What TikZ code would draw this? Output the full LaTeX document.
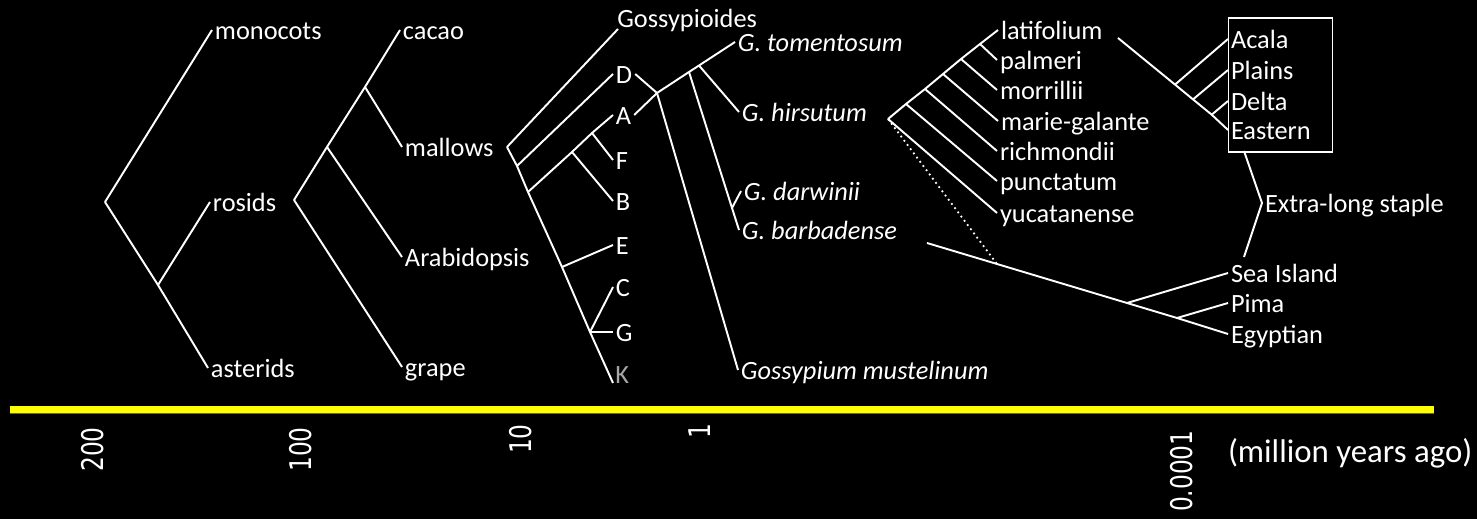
\documentclass[tikz,border=0pt]{standalone}
\usepackage{fontspec}
\setmainfont{Carlito}
\newfontfamily\axisfont[FakeStretch=0.78]{DejaVu Sans}
\usepackage{xcolor}
\usepackage{tikz}
\definecolor{barYellow}{HTML}{FFFF00}
\definecolor{barEdge}{HTML}{6E6E00}
\definecolor{kGray}{HTML}{A6A6A6}

\tikzset{
  branch/.style={draw=white, line width=1.1pt},
  taxon/.style={anchor=west, text=white, inner sep=1.5pt, text height=14pt, text depth=3.5pt,
                font=\fontsize{15}{18}\selectfont},
  species/.style={taxon, font=\fontsize{15}{18}\selectfont\itshape},
  mya/.style={rotate=90, anchor=east, text=white, inner sep=0pt, font=\axisfont\fontsize{17}{20}\selectfont}
}

\begin{document}
\begin{tikzpicture}[x=0.02cm, y=-0.02cm]
    \fill[black] (0,0) rectangle (1477,519);

    % angiosperms
    \coordinate (angio) at (105,202);
    \coordinate (eudicot) at (158,285);
    \node[taxon] (monocots) at (212,30) {monocots};
    \node[taxon] (rosids) at (210,202) {rosids};
    \node[taxon] (asterids) at (208,368) {asterids};
    \draw[branch] (angio) -- (monocots.west);
    \draw[branch] (angio) -- (eudicot) -- (asterids.west);
    \draw[branch] (eudicot) -- (rosids.west);

    % rosids
    \coordinate (rosRoot) at (294,200);
    \coordinate (malvid) at (327,147);
    \coordinate (malvales) at (365,87);
    \node[taxon] (cacao) at (400,30) {cacao};
    \node[taxon] (mallows) at (402,147) {mallows};
    \node[taxon] (arabidopsis) at (402,257) {Arabidopsis};
    \node[taxon] (grape) at (402,367) {grape};
    \draw[branch] (rosRoot) -- (malvid) -- (malvales) -- (cacao.west);
    \draw[branch] (malvales) -- (mallows.west);
    \draw[branch] (malvid) -- (arabidopsis.west);
    \draw[branch] (rosRoot) -- (grape.west);

    % genome groups
    \coordinate (gossRoot) at (507,147);
    \coordinate (gossTip) at (618,29);
    \coordinate (dSplit) at (517,166);
    \coordinate (aSplit) at (528,192);
    \coordinate (fSplit) at (592,133);
    \coordinate (bSplit) at (572,152);
    \coordinate (eSplit) at (562,267);
    \coordinate (cgSplit) at (590,332);
    \coordinate (kTip) at (613,383);
    \node[anchor=base west, text=white, inner sep=0pt, font=\fontsize{15}{18}\selectfont] (gossypioides) at (617,28) {Gossypioides};
    \node[taxon] (D) at (613,74) {D};
    \node[taxon] (A) at (613,115) {A};
    \node[taxon] (F) at (613,160) {F};
    \node[taxon] (B) at (613,201) {B};
    \node[taxon] (E) at (613,245) {E};
    \node[taxon] (C) at (613,287) {C};
    \node[taxon] (G) at (613,332) {G};
    \node[anchor=base west, text=kGray, inner sep=0pt, font=\fontsize{15}{18}\selectfont] (K) at (615,384) {K};
    \draw[branch] (gossRoot) -- (gossTip);
    \draw[branch] (dSplit) -- (D.west);
    \draw[branch] (aSplit) -- (bSplit) -- (fSplit) -- (A.west);
    \draw[branch] (fSplit) -- (F.west);
    \draw[branch] (bSplit) -- (B.west);
    \draw[branch] (gossRoot) -- (dSplit) -- (aSplit) -- (eSplit) -- (cgSplit) -- (kTip);
    \draw[branch] (eSplit) -- (E.west);
    \draw[branch] (cgSplit) -- (C.west);
    \draw[branch] (cgSplit) -- (G.west);

    % tetraploids
    \coordinate (allo) at (657,93);
    \coordinate (barbNode) at (689,72);
    \coordinate (hirsNode) at (699,65.5);
    \coordinate (darNode) at (732,208);
    \node[species] (tomentosum) at (735,42) {G. tomentosum};
    \node[species] (hirsutum) at (739,112) {G. hirsutum};
    \node[species] (darwinii) at (741,191) {G. darwinii};
    \node[species] (barbadense) at (739,230) {G. barbadense};
    \node[species] (mustelinum) at (738,370) {Gossypium mustelinum};
    \draw[branch] (D.east) -- (allo) -- (mustelinum.west);
    \draw[branch] (A.east) -- (allo) -- (barbNode) -- (hirsNode) -- (tomentosum.west);
    \draw[branch] (hirsNode) -- (hirsutum.west);
    \draw[branch] (barbNode) -- (darNode) -- (barbadense.west);
    \draw[branch] (darNode) -- (darwinii.west);

    % hirsutum races
    \coordinate (raceRoot) at (888,119);
    \coordinate (race1) at (906,104);
    \coordinate (race2) at (925,89);
    \coordinate (race3) at (943,74);
    \coordinate (race4) at (961,59);
    \coordinate (race5) at (980,44);
    \node[taxon] (latifolium) at (998,30) {latifolium};
    \node[taxon] (palmeri) at (997,60) {palmeri};
    \node[taxon] (morrillii) at (997,90) {morrillii};
    \node[taxon] (mariegalante) at (998,121) {marie-galante};
    \node[taxon] (richmondii) at (997,151) {richmondii};
    \node[taxon] (punctatum) at (997,181) {punctatum};
    \node[taxon] (yucatanense) at (997,213) {yucatanense};
    \draw[branch] (raceRoot) -- (race1) -- (race2) -- (race3) -- (race4) -- (race5) -- (latifolium.west);
    \draw[branch] (race5) -- (palmeri.west);
    \draw[branch] (race4) -- (morrillii.west);
    \draw[branch] (race3) -- (mariegalante.west);
    \draw[branch] (race2) -- (richmondii.west);
    \draw[branch] (race1) -- (punctatum.west);
    \draw[branch] (raceRoot) -- (yucatanense.west);

    % cultivars
    \coordinate (barbStart) at (927,243);
    \coordinate (barbJoin) at (997,264);
    \coordinate (seaNode) at (1127,303);
    \coordinate (pimaNode) at (1177,318);
    \node[taxon] (seaisland) at (1228,273) {Sea Island};
    \node[taxon] (pima) at (1228,303) {Pima};
    \node[taxon] (egyptian) at (1228,334) {Egyptian};
    \draw[branch] (barbStart) -- (barbJoin) -- (seaNode) -- (pimaNode) -- (egyptian.west);
    \draw[branch] (seaNode) -- (seaisland.west);
    \draw[branch] (pimaNode) -- (pima.west);
    \draw[white, dotted, line width=1pt] (raceRoot) -- (barbJoin);

    \coordinate (upStart) at (1118,38);
    \coordinate (acalaNode) at (1175,84.6);
    \coordinate (plainsNode) at (1193,99.4);
    \coordinate (deltaNode) at (1211.7,114.7);
    \node[taxon] (acala) at (1228,39) {Acala};
    \node[taxon] (plains) at (1228,70) {Plains};
    \node[taxon] (delta) at (1228,101) {Delta};
    \node[taxon] (eastern) at (1228,130) {Eastern};
    \draw[branch] (upStart) -- (acalaNode) -- (plainsNode) -- (deltaNode) -- (eastern.west);
    \draw[branch] (acalaNode) -- (acala.west);
    \draw[branch] (plainsNode) -- (plains.west);
    \draw[branch] (deltaNode) -- (delta.west);
    \node[draw=white, line width=1pt, minimum width=2.08cm, minimum height=2.67cm] (upbox) at (1280.5,85) {};

    \node[taxon] (staple) at (1262,203) {Extra-long staple};
    \draw[branch] (1244,151) -- (staple.west) -- (1244,257);

    % time axis
    \fill[barYellow] (10,406) rectangle (1434,413);
    \draw[barEdge, line width=0.6pt] (10,413.5) -- (1434,413.5);
    \node[mya] (t200) at (93,427) {200};
    \node[mya] (t100) at (301,427) {100};
    \node[mya] (t10) at (521,424) {10};
    \node[mya] (t1) at (700,423) {1};
    \node[mya] (t0001) at (1182,430) {0.0001};
    \node[anchor=west, text=white, inner sep=1.5pt, font=\fontsize{18.7}{22}\selectfont] (unit) at (1225,453) {(million years ago)};
\end{tikzpicture}
\end{document}
